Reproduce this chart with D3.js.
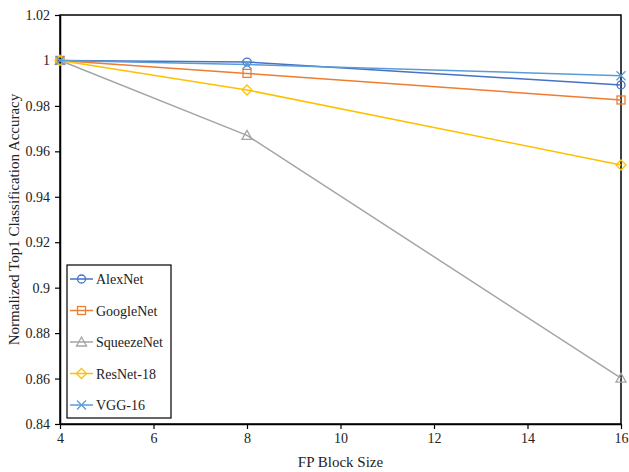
<!DOCTYPE html>
<html>
<head>
<meta charset="utf-8">
<script src="https://cdn.jsdelivr.net/npm/d3@7"></script>
<style>
  body { margin: 0; background: #fff; }
  svg { display: block; }
</style>
</head>
<body>
<div id="chart"></div>
<script>
	// block sizes on the x axis
	const blockSizes = [4, 8, 16];

	const seriesNames = ['AlexNet', 'GoogleNet', 'SqueezeNet', 'ResNet-18', 'VGG-16'];
	const alexNet = [1, 0.9993, 0.9892];
	const googleNet = [1, 0.9943, 0.9826];
	const squeezeNet = [1, 0.9670, 0.8602];
	const resNet18 = [1, 0.9870, 0.9540];
	const vgg16 = [1, 0.9982, 0.9933];

	const xTicks = [4, 6, 8, 10, 12, 14, 16];
	const yTicks = [0.84, 0.86, 0.88, 0.9, 0.92, 0.94, 0.96, 0.98, 1, 1.02];

	const seriesValues = [alexNet, googleNet, squeezeNet, resNet18, vgg16];
	const colors = ['#4472C4', '#ED7D31', '#A5A5A5', '#FFC000', '#5B9BD5'];
	const markers = ['circle', 'square', 'triangle', 'diamond', 'cross'];

	const width = 629, height = 472;
	const margin = { top: 15, right: 8, bottom: 48, left: 60 };

	const svg = d3.select('#chart').append('svg')
		.attr('width', width)
		.attr('height', height)
		.attr('font-family', '"Liberation Serif", "Times New Roman", serif');

	const x = d3.scaleLinear().domain([4, 16]).range([margin.left, width - margin.right]);
	const y = d3.scaleLinear().domain([0.84, 1.02]).range([height - margin.bottom, margin.top]);

	// plot frame
	svg.append('rect')
		.attr('x', x(4)).attr('y', y(1.02))
		.attr('width', x(16) - x(4)).attr('height', y(0.84) - y(1.02))
		.attr('fill', 'none').attr('stroke', '#000').attr('stroke-width', 1.5);

	const xAxis = svg.append('g')
		.attr('transform', 'translate(0,' + y(0.84) + ')')
		.call(d3.axisBottom(x).tickValues(xTicks).tickSize(5).tickSizeOuter(0).tickPadding(4).tickFormat(d3.format('d')));
	const yAxis = svg.append('g')
		.attr('transform', 'translate(' + x(4) + ',0)')
		.call(d3.axisLeft(y).tickValues(yTicks).tickSize(5).tickSizeOuter(0).tickPadding(5)
			.tickFormat(function(d) { return String(+d.toFixed(2)); }));

	[xAxis, yAxis].forEach(function(a) {
		a.select('.domain').attr('stroke', '#000').attr('stroke-width', 1.5);
		a.selectAll('.tick line').attr('stroke', '#000').attr('stroke-width', 1.2);
		a.selectAll('.tick text').attr('font-size', 14).attr('fill', '#222')
			.attr('font-family', '"Liberation Serif", "Times New Roman", serif');
	});

	svg.append('text')
		.attr('x', (x(4) + x(16)) / 2).attr('y', height - 5)
		.attr('text-anchor', 'middle').attr('font-size', 15).attr('fill', '#222')
		.text('FP Block Size');
	svg.append('text')
		.attr('transform', 'translate(19,' + ((y(0.84) + y(1.02)) / 2) + ') rotate(-90)')
		.attr('text-anchor', 'middle').attr('font-size', 15).attr('fill', '#222')
		.text('Normalized Top1 Classification Accuracy');

	function drawMarker(g, type, color) {
		const s = 4;
		if (type === 'circle') {
			g.append('circle').attr('r', s).attr('fill', 'none').attr('stroke', color).attr('stroke-width', 1.3);
		} else if (type === 'square') {
			g.append('rect').attr('x', -s).attr('y', -s).attr('width', 2 * s).attr('height', 2 * s)
				.attr('fill', 'none').attr('stroke', color).attr('stroke-width', 1.3);
		} else if (type === 'triangle') {
			g.append('path').attr('d', 'M0,-5L5,4L-5,4Z').attr('fill', 'none').attr('stroke', color).attr('stroke-width', 1.3);
		} else if (type === 'diamond') {
			g.append('path').attr('d', 'M0,-5L5,0L0,5L-5,0Z').attr('fill', 'none').attr('stroke', color).attr('stroke-width', 1.3);
		} else if (type === 'cross') {
			g.append('path').attr('d', 'M-4.5,-4.5L4.5,4.5M-4.5,4.5L4.5,-4.5').attr('stroke', color).attr('stroke-width', 1.3);
		}
	}

	const line = d3.line()
		.x(function(d) { return x(d[0]); })
		.y(function(d) { return y(d[1]); });

	seriesValues.forEach(function(vals, i) {
		const pts = blockSizes.map(function(b, j) { return [b, vals[j]]; });
		svg.append('path')
			.datum(pts)
			.attr('d', line)
			.attr('fill', 'none')
			.attr('stroke', colors[i])
			.attr('stroke-width', 1.5);
		pts.forEach(function(p) {
			const g = svg.append('g').attr('transform', 'translate(' + x(p[0]) + ',' + y(p[1]) + ')');
			drawMarker(g, markers[i], colors[i]);
		});
	});

	// legend
	const legend = svg.append('g').attr('transform', 'translate(67,265)');
	legend.append('rect')
		.attr('width', 104).attr('height', 153)
		.attr('fill', '#fff').attr('stroke', '#000').attr('stroke-width', 1.2);
	seriesNames.forEach(function(name, i) {
		const row = legend.append('g').attr('transform', 'translate(0,' + (14 + i * 31.5) + ')');
		row.append('line').attr('x1', 3).attr('x2', 26).attr('stroke', colors[i]).attr('stroke-width', 1.5);
		const m = row.append('g').attr('transform', 'translate(14.5,0)');
		drawMarker(m, markers[i], colors[i]);
		row.append('text').attr('x', 29).attr('y', 5)
			.attr('font-size', 14).attr('fill', '#222').text(name);
	});
</script>
</body>
</html>
